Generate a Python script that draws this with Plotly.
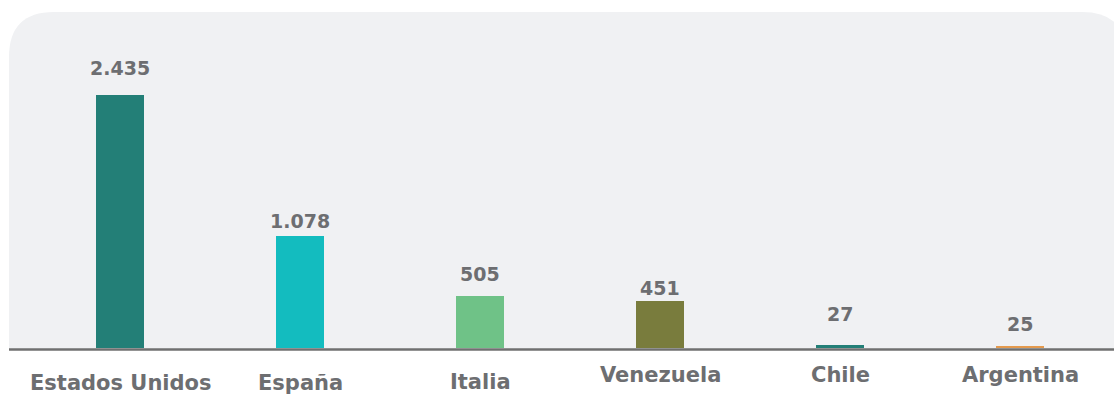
import plotly.graph_objects as go

# ---- data ----
countries = ["Estados Unidos", "España", "Italia", "Venezuela", "Chile", "Argentina"]
values = [2435, 1078, 505, 451, 27, 25]
value_labels = ["2.435", "1.078", "505", "451", "27", "25"]

# ---- styles ----
bar_colors = ["#237F77", "#13BCBF", "#6FC287", "#797C3D", "#237F77", "#E49A4E"]
label_shift = [27, 15, 22, 13, 31, 22]          # px above bar top
cat_center_px = [383, 383, 382, 375, 375, 375]  # vertical centre of category labels
TXT = "#6D6E71"
FONT = "DejaVu Sans"

W, H = 1114, 395
BASE = 348.3          # pixel row of the baseline
PX_PER_UNIT = 0.104

xs = list(range(len(countries)))

fig = go.Figure()
fig.add_trace(go.Bar(
    x=xs, y=values, marker=dict(color=bar_colors, line=dict(width=0)),
    width=48 / 180, hoverinfo="skip", showlegend=False,
))

# value labels
for i, (v, t) in enumerate(zip(values, value_labels)):
    fig.add_annotation(x=i, y=v, xref="x", yref="y", text=t, showarrow=False,
                       yanchor="middle", yshift=label_shift[i],
                       font=dict(family=FONT, size=19, color=TXT, weight=700))

# category labels
for i, c in enumerate(countries):
    fig.add_annotation(x=i, y=1 - cat_center_px[i] / H, xref="x", yref="paper", text=c,
                       showarrow=False, yanchor="middle", borderpad=0,
                       font=dict(family=FONT, size=21, color=TXT, weight=700))

# rounded background panel (pixel -> paper)
def px(x):
    return x / W
def py(y):
    return 1 - y / H

L, T, R, B, r = 9, 12, 1127, 349, 45
path = (f"M {px(L)},{py(B)} L {px(L)},{py(T + r)} "
        f"Q {px(L)},{py(T)} {px(L + r)},{py(T)} "
        f"L {px(R - r)},{py(T)} Q {px(R)},{py(T)} {px(R)},{py(T + r)} "
        f"L {px(R)},{py(B)} Z")
fig.add_shape(type="path", path=path, xref="paper", yref="paper",
              fillcolor="#F0F1F3", line=dict(width=0), layer="below")
# baseline
fig.add_shape(type="line", xref="paper", yref="paper",
              x0=px(9), x1=px(1114), y0=py(349.5), y1=py(349.5),
              line=dict(color="#707070", width=2.5), layer="above")

fig.update_layout(
    width=W, height=H, autosize=False,
    margin=dict(l=0, r=0, t=0, b=0),
    paper_bgcolor="white", plot_bgcolor="rgba(0,0,0,0)",
    xaxis=dict(domain=[0, 1], range=[-120 / 180, (W - 120) / 180],
               showgrid=False, zeroline=False, showticklabels=False, showline=False,
               fixedrange=True),
    yaxis=dict(domain=[1 - BASE / H, 1], range=[0, BASE / PX_PER_UNIT],
               showgrid=False, zeroline=False, showticklabels=False, showline=False,
               fixedrange=True),
    bargap=0,
)

fig.write_html("out.html", config={"displayModeBar": False},
               post_script="document.body.style.margin='0px';document.body.style.overflow='hidden';")
